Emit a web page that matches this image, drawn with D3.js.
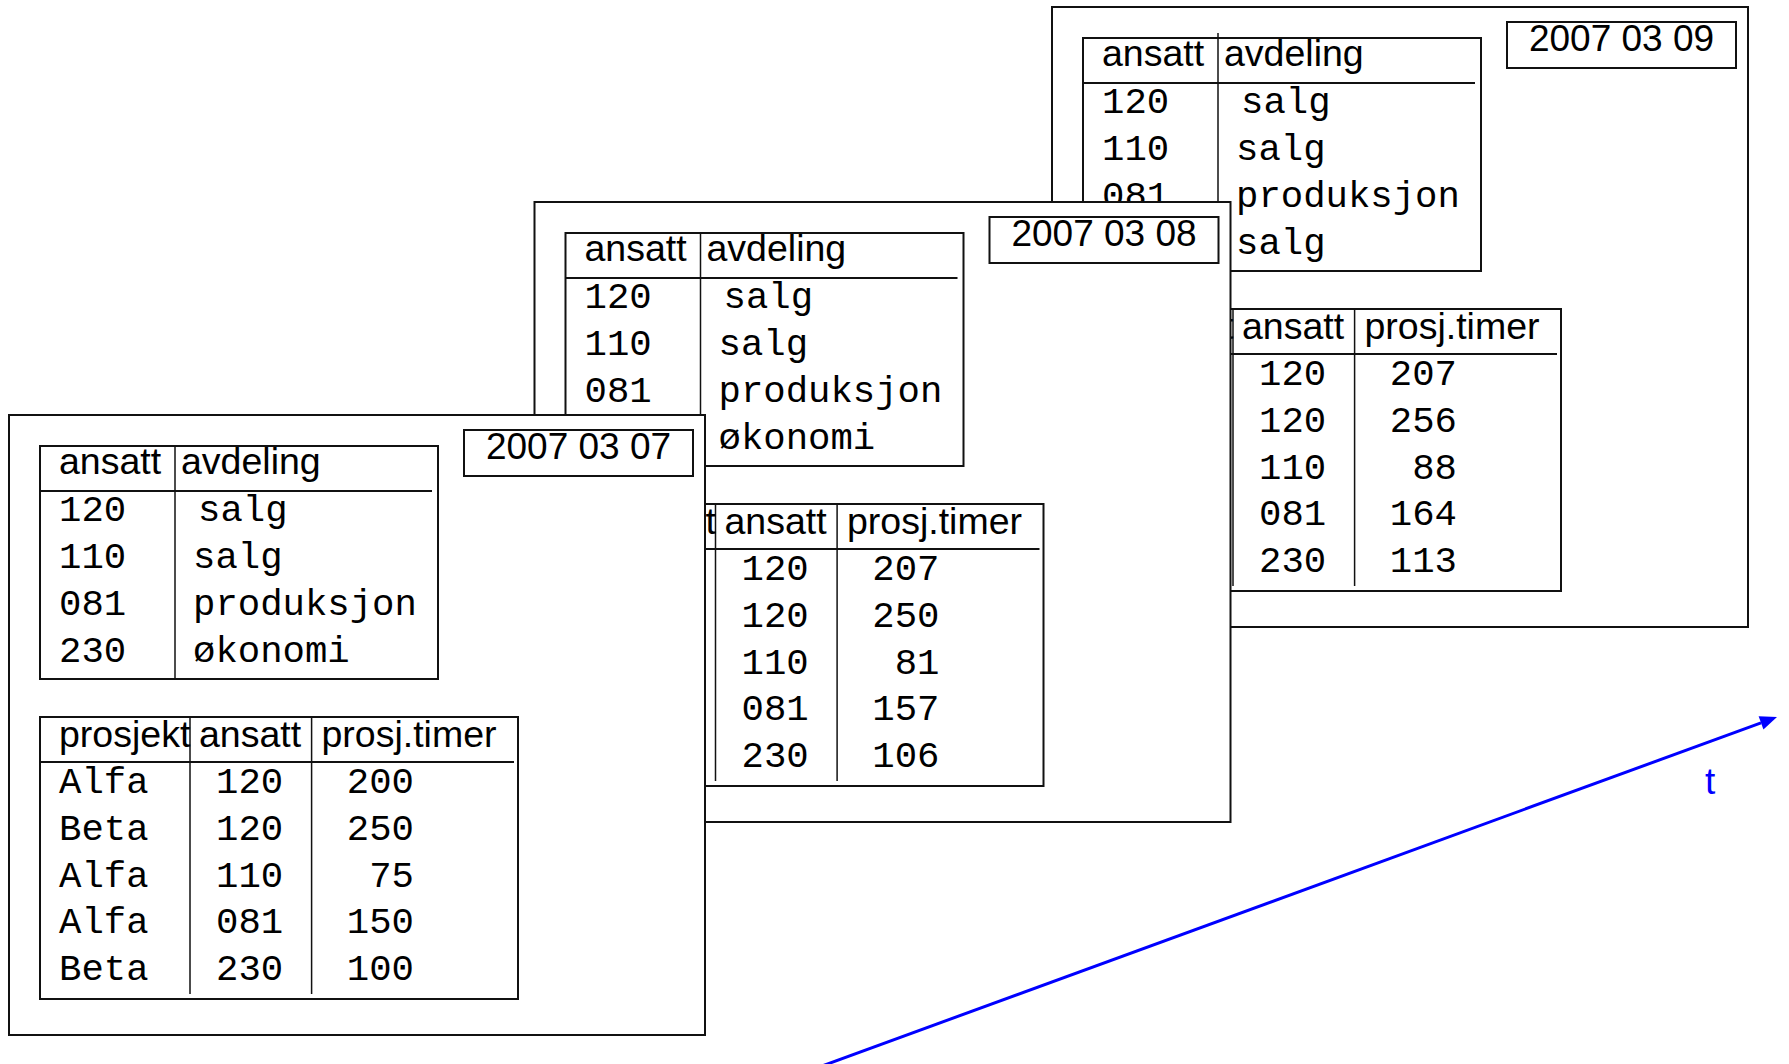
<!DOCTYPE html>
<html>
<head>
<meta charset="utf-8">
<script src="https://cdn.jsdelivr.net/npm/d3@7"></script>
<style>
  html, body { margin: 0; padding: 0; background: #fff; }
  svg { display: block; }
  .sans { font-family: "Liberation Sans", Arial, sans-serif; }
  .mono { font-family: "Liberation Mono", "Courier New", monospace; }
</style>
</head>
<body>
<svg id="chart" width="1789" height="1064"></svg>
<script>
// one snapshot of the database per day
var snapshotDates = ["2007 03 07", "2007 03 08", "2007 03 09"];

var avdelingHeader = ["ansatt", "avdeling"];
var avdelingAnsatt = ["120", "110", "081", "230"];
var avdelingNavn = [
  ["salg", "salg", "produksjon", "økonomi"],
  ["salg", "salg", "produksjon", "økonomi"],
  ["salg", "salg", "produksjon", "salg"]
];

var prosjektHeader = ["prosjekt", "ansatt", "prosj.timer"];
var prosjektNavn = ["Alfa", "Beta", "Alfa", "Alfa", "Beta"];
var prosjektAnsatt = ["120", "120", "110", "081", "230"];
var prosjektTimer = [
  [200, 250, 75, 150, 100],
  [207, 250, 81, 157, 106],
  [207, 256, 88, 164, 113]
];

var svg = d3.select("#chart");
var W = 696, H = 620;
var headSize = 37.5, monoSize = 37.3;
// where each sheet sits (front sheet is the first date)
var panelPos = d3.scaleOrdinal().domain(snapshotDates)
  .range([[9, 415], [534.5, 202], [1052, 7]]);

var stroke = "#111";

function drawPanel(date, i) {
  var g = svg.append("g").attr("transform", "translate(" + panelPos(date) + ")");
  g.append("rect").attr("width", W).attr("height", H)
    .attr("fill", "#fff").attr("stroke", stroke).attr("stroke-width", 2);

  // date label
  g.append("rect").attr("x", 455).attr("y", 15).attr("width", 229).attr("height", 46)
    .attr("fill", "#fff").attr("stroke", stroke).attr("stroke-width", 2);
  g.append("text").attr("class", "sans").attr("x", 569.5).attr("y", 44)
    .attr("text-anchor", "middle").attr("font-size", 37).text(date);

  // table ansatt / avdeling
  var rowA = d3.scaleLinear().domain([0, 1]).range([75, 122]);
  var ta = g.append("g").attr("transform", "translate(31,31)");
  ta.append("rect").attr("width", 398).attr("height", 233)
    .attr("fill", "none").attr("stroke", stroke).attr("stroke-width", 2);
  ta.append("line").attr("x1", 0).attr("x2", 392).attr("y1", 45).attr("y2", 45)
    .attr("stroke", stroke).attr("stroke-width", 2);
  // the last sheet has its divider poking a bit above the table
  ta.append("line").attr("x1", 135).attr("x2", 135).attr("y1", i == 2 ? -5 : 0).attr("y2", 233)
    .attr("stroke", stroke).attr("stroke-width", 1.5);
  ta.selectAll("text.h").data(avdelingHeader).join("text")
    .attr("class", "h sans").attr("font-size", headSize)
    .attr("x", function(d, k) { return k ? 141 : 19; }).attr("y", 28)
    .text(function(d) { return d; });
  ta.selectAll("text.c1").data(avdelingAnsatt).join("text")
    .attr("class", "c1 mono").attr("font-size", monoSize)
    .attr("x", 19).attr("y", function(d, k) { return rowA(k); })
    .text(function(d) { return d; });
  ta.selectAll("text.c2").data(avdelingNavn[i]).join("text")
    .attr("class", "c2 mono").attr("font-size", monoSize)
    .attr("x", function(d, k) { return k ? 153 : 158; }).attr("y", function(d, k) { return rowA(k); })
    .text(function(d) { return d; });

  // table prosjekt / ansatt / prosj.timer
  var rowB = d3.scaleLinear().domain([0, 4]).range([76, 263]);
  var tb = g.append("g").attr("transform", "translate(31,302)");
  tb.append("rect").attr("width", 478).attr("height", 282)
    .attr("fill", "none").attr("stroke", stroke).attr("stroke-width", 2);
  tb.append("line").attr("x1", 0).attr("x2", 474).attr("y1", 45).attr("y2", 45)
    .attr("stroke", stroke).attr("stroke-width", 2);
  [150, 271.6].forEach(function(x) {
    tb.append("line").attr("x1", x).attr("x2", x).attr("y1", 0).attr("y2", 277)
      .attr("stroke", stroke).attr("stroke-width", 1.5);
  });
  tb.selectAll("text.h").data(prosjektHeader).join("text")
    .attr("class", "h sans").attr("font-size", headSize)
    .attr("x", function(d, k) { return [19, 159, 281.5][k]; }).attr("y", 30)
    .text(function(d) { return d; });
  tb.selectAll("text.c1").data(prosjektNavn).join("text")
    .attr("class", "c1 mono").attr("font-size", monoSize)
    .attr("x", 19).attr("y", function(d, k) { return rowB(k); })
    .text(function(d) { return d; });
  tb.selectAll("text.c2").data(prosjektAnsatt).join("text")
    .attr("class", "c2 mono").attr("font-size", monoSize)
    .attr("x", 176).attr("y", function(d, k) { return rowB(k); })
    .text(function(d) { return d; });
  tb.selectAll("text.c3").data(prosjektTimer[i]).join("text")
    .attr("class", "c3 mono").attr("font-size", monoSize).attr("text-anchor", "end")
    .attr("x", 374).attr("y", function(d, k) { return rowB(k); })
    .text(function(d) { return d; });
}

// draw back to front so the earlier sheet covers the later ones
for (var i = snapshotDates.length - 1; i >= 0; i--) drawPanel(snapshotDates[i], i);

// time axis
var blue = "#0000ff";
var x0 = 822, y0 = 1066, x1 = 1777, y1 = 717;
var ang = Math.atan2(y1 - y0, x1 - x0);
var headLen = 17, headW = 7;
var bx = x1 - headLen * Math.cos(ang), by = y1 - headLen * Math.sin(ang);
svg.append("line").attr("x1", x0).attr("y1", y0).attr("x2", bx).attr("y2", by)
  .attr("stroke", blue).attr("stroke-width", 3);
svg.append("path")
  .attr("d", d3.line()([
    [x1, y1],
    [bx + headW * Math.sin(ang), by - headW * Math.cos(ang)],
    [bx - headW * Math.sin(ang), by + headW * Math.cos(ang)]
  ]) + "Z")
  .attr("fill", blue);
svg.append("text").attr("class", "sans").attr("x", 1705).attr("y", 794)
  .attr("font-size", 37).attr("fill", blue).text("t");
</script>
</body>
</html>
